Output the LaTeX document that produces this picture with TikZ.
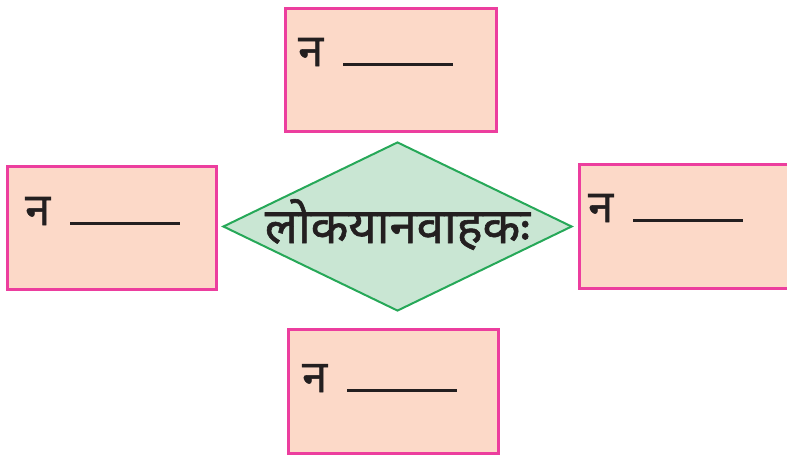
\documentclass[tikz,border=0pt]{standalone}
\usepackage{fontspec}
\newfontfamily\deva[Script=Devanagari,FakeBold=1.2]{Noto Sans}
\usetikzlibrary{shapes.geometric,calc}
\definecolor{boxfill}{RGB}{252,217,200}
\definecolor{boxline}{RGB}{236,62,158}
\definecolor{diafill}{RGB}{201,230,211}
\definecolor{dialine}{RGB}{38,168,88}
\definecolor{ink}{RGB}{35,31,32}
\tikzset{
  ansbox/.style={draw=boxline, fill=boxfill, line width=3pt, rectangle, inner sep=0pt},
  centre/.style={draw=dialine, fill=diafill, line width=2pt, diamond, aspect=2.06, inner sep=0pt,
    minimum width=349pt, minimum height=169pt, font=\deva\fontsize{49}{58}\selectfont, text=ink},
  blank/.style={anchor=base west, inner sep=0pt, font=\deva\fontsize{45}{54}\selectfont, text=ink}
}
\newcommand{\blankline}{\makebox[45pt][l]{न}\rule[0.5pt]{110pt}{2.8pt}}
\newcommand{\centred}[1]{\smash{\raisebox{-16.5pt}{\makebox[0pt]{#1}}}}
\begin{document}
\begin{tikzpicture}[x=1pt,y=-1pt]
\clip (0,0) rectangle (787,463);
\useasboundingbox (0,0) rectangle (787,463);
\node[ansbox, minimum width=211pt, minimum height=123pt] (top) at (391,70) {};
\node[ansbox, minimum width=209pt, minimum height=123pt] (left) at (112,228) {};
\node[ansbox, minimum width=230pt, minimum height=124pt] (right) at (694.5,226.5) {};
\node[ansbox, minimum width=210pt, minimum height=124pt] (bottom) at (393.5,391.5) {};
\node[centre] (dia) at (397.5,226.5) {\centred{लोकयानवाहकः}};
\node[blank] (ttop) at ($(top.north west)+(14,59)$) {\blankline};
\node[blank] (tleft) at ($(left.north west)+(19,60)$) {\blankline};
\node[blank] (tright) at ($(right.north west)+(10,59)$) {\blankline};
\node[blank] (tbottom) at ($(bottom.north west)+(15,64)$) {\blankline};
\end{tikzpicture}
\end{document}
